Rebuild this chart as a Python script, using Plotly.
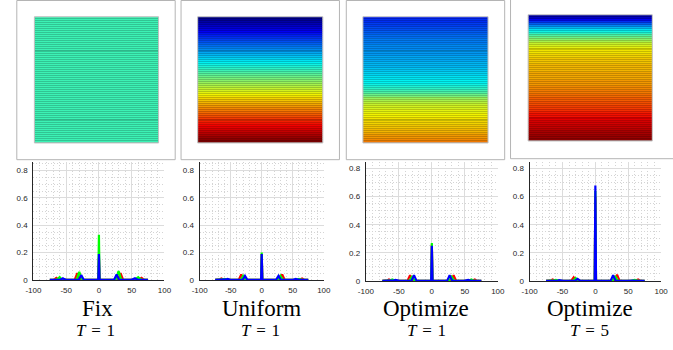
import plotly.graph_objects as go

W, H = 673, 350

# ---------------------------------------------------------------- data
PANEL_TITLES = ["Fix", "Uniform", "Optimize", "Optimize"]
PANEL_T = ["1", "1", "1", "5"]

# colormap index (jet, 64 entries) of every stripe, top row first
FIX_LEVELS = [27] * 64
UNIFORM_LEVELS = [
    0, 1, 2, 3, 4, 5, 6, 7, 8, 9, 10, 11, 12, 13, 14, 15,
    16, 17, 18, 19, 20, 21, 22, 23, 24, 25, 26, 27, 28, 29, 30, 31,
    32, 33, 34, 35, 36, 37, 38, 39, 40, 41, 42, 43, 44, 45, 46, 47,
    48, 49, 50, 51, 52, 53, 54, 55, 56, 57, 58, 59, 60, 61, 62, 63,
]
OPT_T1_LEVELS = [
    9, 10, 10, 11, 11, 12, 12, 13, 13, 14,
    14, 15, 15, 15, 16, 16, 16, 17, 17, 17,
    18, 18, 18, 19, 19, 19, 20, 20, 21, 21,
    22, 22, 23, 23, 24, 25, 26, 27, 28, 30,
    31, 33, 34, 35, 36, 37, 37, 38, 38, 39,
    39, 40, 40, 41, 41, 42, 42, 43, 43, 44,
    45, 45, 46, 47,
]
OPT_T5_LEVELS = [
    2, 4, 7, 10, 13, 16, 19, 22, 24, 26,
    28, 30, 32, 34, 36, 37, 38, 39, 40, 40,
    41, 41, 42, 42, 42, 43, 43, 43, 43, 44,
    44, 44, 44, 45, 45, 45, 46, 46, 47, 47,
    48, 48, 49, 49, 50, 50, 51, 51, 52, 53,
    54, 54, 55, 56, 57, 57, 58, 58, 59, 60,
    60, 61, 61, 62,
]
STRIPE_LEVELS = [FIX_LEVELS, UNIFORM_LEVELS, OPT_T1_LEVELS, OPT_T5_LEVELS]

# sample positions of the three channel distributions
X_RED = [-75, -70, -67, -65, -63, -60, -37, -35, -33, -31, -29, -3, -1, 0, 1, 3,
         29, 31, 33, 35, 37, 60, 63, 65, 67, 70, 75]
X_GREEN = [-75, -66, -62, -60, -58, -54, -34, -32, -30, -28, -26, -3, -1, 0, 1, 3,
           26, 28, 30, 32, 34, 54, 58, 60, 62, 66, 75]
X_BLUE = [-75, -61, -57, -55, -53, -49, -31, -29, -27, -25, -23, -3, -1, 0, 1, 3,
          23, 25, 27, 29, 31, 49, 53, 55, 57, 61, 75]

# Fix, T = 1
FIX_RED = [0, 0, 0.008, 0.015, 0.008, 0, 0, 0.025, 0.05, 0.025, 0, 0, 0, 0.16, 0, 0,
           0, 0.025, 0.05, 0.025, 0, 0, 0.008, 0.015, 0.008, 0, 0]
FIX_GREEN = [0, 0, 0.01, 0.02, 0.01, 0, 0, 0.03, 0.06, 0.03, 0, 0, 0, 0.33, 0, 0,
             0, 0.035, 0.065, 0.035, 0, 0, 0.01, 0.02, 0.01, 0, 0]
FIX_BLUE = [0, 0, 0.006, 0.012, 0.006, 0, 0, 0.018, 0.035, 0.018, 0, 0, 0, 0.19, 0, 0,
            0, 0.02, 0.04, 0.02, 0, 0, 0.006, 0.012, 0.006, 0, 0]
# Uniform, T = 1
UNI_RED = [0, 0, 0.005, 0.01, 0.005, 0, 0, 0.02, 0.04, 0.02, 0, 0, 0, 0.19, 0, 0,
           0, 0.02, 0.04, 0.02, 0, 0, 0.005, 0.01, 0.005, 0, 0]
UNI_GREEN = [0, 0, 0.004, 0.008, 0.004, 0, 0, 0.015, 0.03, 0.015, 0, 0, 0, 0.2, 0, 0,
             0, 0.015, 0.03, 0.015, 0, 0, 0.004, 0.008, 0.004, 0, 0]
UNI_BLUE = [0, 0, 0.004, 0.008, 0.004, 0, 0, 0.015, 0.03, 0.015, 0, 0, 0, 0.19, 0, 0,
            0, 0.015, 0.03, 0.015, 0, 0, 0.004, 0.008, 0.004, 0, 0]
# Optimize, T = 1
OPT1_RED = [0, 0, 0.005, 0.01, 0.005, 0, 0, 0.02, 0.04, 0.02, 0, 0, 0, 0.26, 0, 0,
            0, 0.02, 0.04, 0.02, 0, 0, 0.005, 0.01, 0.005, 0, 0]
OPT1_GREEN = [0, 0, 0.005, 0.01, 0.005, 0, 0, 0.015, 0.03, 0.015, 0, 0, 0, 0.27, 0, 0,
              0, 0.015, 0.03, 0.015, 0, 0, 0.005, 0.01, 0.005, 0, 0]
OPT1_BLUE = [0, 0, 0.004, 0.008, 0.004, 0, 0, 0.02, 0.04, 0.02, 0, 0, 0, 0.25, 0, 0,
             0, 0.02, 0.04, 0.02, 0, 0, 0.004, 0.008, 0.004, 0, 0]
# Optimize, T = 5
OPT5_RED = [0, 0, 0.005, 0.01, 0.005, 0, 0, 0.012, 0.025, 0.012, 0, 0, 0, 0.6, 0, 0,
            0, 0.022, 0.045, 0.022, 0, 0, 0.005, 0.01, 0.005, 0, 0]
OPT5_GREEN = [0, 0, 0.004, 0.008, 0.004, 0, 0, 0.01, 0.02, 0.01, 0, 0, 0, 0.64, 0, 0,
              0, 0.018, 0.035, 0.018, 0, 0, 0.004, 0.008, 0.004, 0, 0]
OPT5_BLUE = [0, 0, 0.003, 0.006, 0.003, 0, 0, 0.008, 0.015, 0.008, 0, 0, 0, 0.68, 0, 0,
             0, 0.02, 0.04, 0.02, 0, 0, 0.003, 0.006, 0.003, 0, 0]

CURVES = [
    (FIX_RED, FIX_GREEN, FIX_BLUE),
    (UNI_RED, UNI_GREEN, UNI_BLUE),
    (OPT1_RED, OPT1_GREEN, OPT1_BLUE),
    (OPT5_RED, OPT5_GREEN, OPT5_BLUE),
]

X_TICKS = [-100, -50, 0, 50, 100]
X_TICK_TEXT = ["-100", "-50", "0", "50", "100"]
Y_TICKS = [0, 0.2, 0.4, 0.6, 0.8]
Y_TICK_TEXT = ["0", "0.2", "0.4", "0.6", "0.8"]

# ---------------------------------------------------------------- layout (pixels)
FRAMES = [(9, 0.5, 171, 162), (177, 0.5, 339, 162), (346, 0.5, 508, 162), (514, -2, 700, 161)]
SQUARES = [(27, 17, 154, 145), (194, 17, 322, 145), (363, 17, 491, 145), (532, 15, 659, 143)]
# x0, y_top, x1, y_bottom, y range max
PLOTS = [(26, 164.7, 160, 284, 0.86), (196, 164.7, 323, 284, 0.86),
         (366, 163.9, 501, 285, 0.85), (533.5, 163.9, 668, 285, 0.85)]
TITLE_X = [92, 259, 428, 595]
T_X = [89, 258, 428, 595]


def px(x):
    return x / W


def py(y):
    return 1 - y / H


JET = [(0, (0, 0, 143)), (7 / 63, (0, 0, 255)), (23 / 63, (0, 255, 255)),
       (39 / 63, (255, 255, 0)), (55 / 63, (255, 0, 0)), (1, (128, 0, 0))]


def scale(factor):
    return [[p, "rgb(%d,%d,%d)" % tuple(round(c * factor) for c in rgb)] for p, rgb in JET]


fig = go.Figure()
layout = dict(
    width=W, height=H, margin=dict(l=0, r=0, t=0, b=0),
    paper_bgcolor="white", plot_bgcolor="white", showlegend=False,
)
shapes, annotations = [], []
tick_font = dict(family="Liberation Sans, Arial", size=8, color="#262626")
serif = "Liberation Serif, Times New Roman, serif"

for i in range(4):
    # ----- striped colour square
    n = 2 * i + 1
    xa, ya = "x%d" % n, "y%d" % n
    sx0, sy0, sx1, sy1 = SQUARES[i]
    rows = list(range(len(STRIPE_LEVELS[i])))
    z = [[v] for v in STRIPE_LEVELS[i]]
    fig.add_trace(go.Heatmap(z=z, x=[0], y=rows, colorscale=scale(0.72), zmin=0, zmax=63,
                             showscale=False, hoverinfo="skip", xaxis=xa, yaxis=ya))
    fig.add_trace(go.Heatmap(z=z, x=[0], y=rows, colorscale=scale(1.0), zmin=0, zmax=63,
                             ygap=1, showscale=False, hoverinfo="skip", xaxis=xa, yaxis=ya))
    key = "" if n == 1 else str(n)
    layout["xaxis" + key] = dict(domain=[px(sx0), px(sx1)], range=[-0.5, 0.5],
                                 visible=False, anchor=ya, fixedrange=True)
    layout["yaxis" + key] = dict(domain=[py(sy1), py(sy0)],
                                 range=[len(rows) - 0.5, -0.5],
                                 visible=False, anchor=xa, fixedrange=True)
    shapes.append(dict(type="rect", xref="paper", yref="paper",
                       x0=px(sx0), x1=px(sx1), y0=py(sy1), y1=py(sy0),
                       line=dict(color="#bdbdbd", width=1), layer="above"))
    fx0, fy0, fx1, fy1 = FRAMES[i]
    shapes.append(dict(type="rect", xref="paper", yref="paper",
                       x0=px(fx0), x1=px(fx1), y0=py(fy1), y1=py(fy0),
                       line=dict(color="#b4b4b4", width=1)))

    # ----- distribution plot
    m = 2 * i + 2
    xa, ya = "x%d" % m, "y%d" % m
    cx0, cy0, cx1, cy1, ymax = PLOTS[i]
    red, green, blue = CURVES[i]
    for xs, ys, col in ((X_RED, red, "#ff0000"), (X_GREEN, green, "#00ff00"),
                        (X_BLUE, blue, "#0000ff")):
        fig.add_trace(go.Scatter(x=xs, y=ys, mode="lines",
                                 line=dict(color=col, width=2.2),
                                 hoverinfo="skip", xaxis=xa, yaxis=ya))
    minor_grid = dict(showgrid=True, gridcolor="#d4d4d4", griddash="1px,2px", gridwidth=0.8)
    layout["xaxis%d" % m] = dict(
        domain=[px(cx0), px(cx1)], range=[-100, 100], anchor=ya,
        tickvals=X_TICKS, ticktext=X_TICK_TEXT, tickfont=tick_font,
        showline=True, linecolor="#262626", linewidth=1.3, zeroline=False,
        showgrid=True, gridcolor="#dcdcdc", gridwidth=1.2, ticks="", ticklabelstandoff=2,
        minor=dict(dtick=10, **minor_grid),
    )
    layout["yaxis%d" % m] = dict(
        domain=[py(cy1), py(cy0)], range=[0, ymax], anchor=xa,
        tickvals=Y_TICKS, ticktext=Y_TICK_TEXT, tickfont=tick_font,
        showline=True, linecolor="#262626", linewidth=1.3, zeroline=False,
        showgrid=True, gridcolor="#dcdcdc", gridwidth=1.2, ticks="", ticklabelstandoff=3,
        minor=dict(dtick=0.05, **minor_grid),
    )

    annotations.append(dict(text=PANEL_TITLES[i], x=px(TITLE_X[i]), y=py(313),
                            xref="paper", yref="paper", showarrow=False,
                            xanchor="center", yanchor="middle",
                            font=dict(family=serif, size=23, color="black")))
    annotations.append(dict(text="<i>T</i>\u2004=\u20041".replace("1", PANEL_T[i]),
                            x=px(T_X[i]), y=py(335),
                            xref="paper", yref="paper", showarrow=False,
                            xanchor="center", yanchor="middle",
                            font=dict(family=serif, size=17, color="black")))

layout["shapes"] = shapes
layout["annotations"] = annotations
fig.update_layout(**layout)
fig.write_html("out.html")
